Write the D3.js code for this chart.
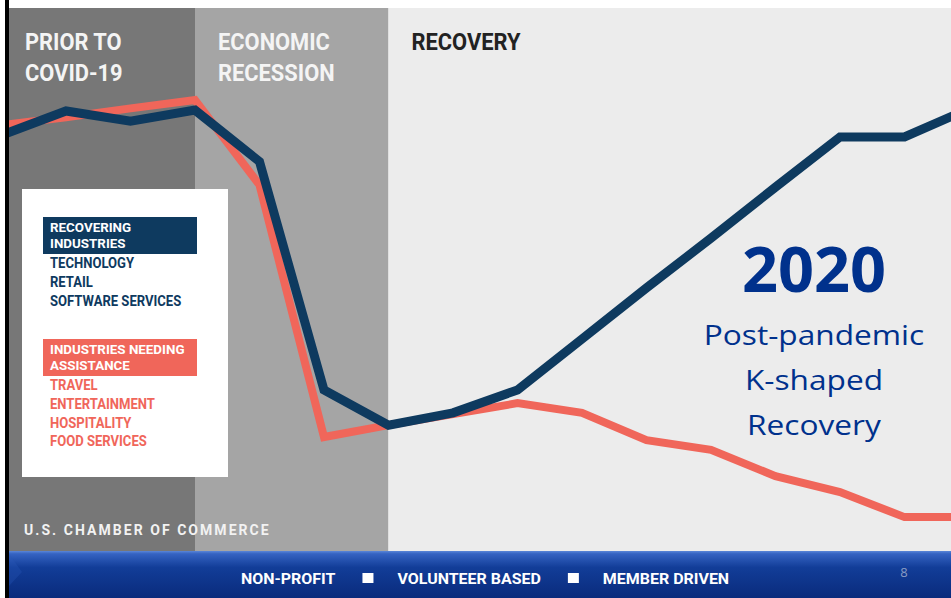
<!DOCTYPE html>
<html>
<head>
<meta charset="utf-8">
<script src="https://cdn.jsdelivr.net/npm/d3@7"></script>
<style>
  html, body { margin: 0; padding: 0; background: #ffffff; }
  svg { display: block; }
</style>
</head>
<body>
<svg width="951" height="598"></svg>
<script>
// data (index, pre-crisis peak = 100)
var steps = [0, 1, 2, 3, 4, 5, 6, 7, 8, 9, 10, 11, 12, 13, 14, 15];
var recovering = [92, 97.5, 95.2, 97.7, 86, 34.1, 26.1, 28.9, 34.1, 45.7, 57.3, 68.6, 80.2, 91.6, 91.6, 98];
var needingAssistance = [94.3, 96.1, 98.1, 100, 80.7, 23.4, 26.1, 28.6, 31.1, 28.9, 22.7, 20.5, 14.5, 10.9, 5.2, 5.2];

var phaseLabels = [["PRIOR TO", "COVID-19"], ["ECONOMIC", "RECESSION"], ["RECOVERY"]];
var phaseStart = [0, 3, 6];
var phaseEnd = [3, 6, 15];

var recoveringHeader = ["RECOVERING", "INDUSTRIES"];
var recoveringItems = ["TECHNOLOGY", "RETAIL", "SOFTWARE SERVICES"];
var assistHeader = ["INDUSTRIES NEEDING", "ASSISTANCE"];
var assistItems = ["TRAVEL", "ENTERTAINMENT", "HOSPITALITY", "FOOD SERVICES"];

var footerItems = ["NON-PROFIT", "VOLUNTEER BASED", "MEMBER DRIVEN"];
var noteLines = ["Post-pandemic", "K-shaped", "Recovery"];

// layout
var W = 951, H = 598;
var plot = {left: 9, top: 8, right: 951, bottom: 551};
var phaseFill = ["#777777", "#a5a5a5", "#ececec"];
var phaseText = ["#f4f4f4", "#f4f4f4", "#222222"];
var navy = "#0e3a5f", coral = "#f0665a", noteBlue = "#00318c";

var svg = d3.select("svg");

var x = d3.scaleLinear().domain([0, 15]).range([1.5, 969]);
var y = d3.scaleLinear().domain([0, 100]).range([540, 100]);

// squeeze / stretch text horizontally by a factor
function fit(sel, k) {
    sel.each(function() {
        var len = this.getComputedTextLength();
        d3.select(this).attr("textLength", len * k).attr("lengthAdjust", "spacingAndGlyphs");
    });
}

svg.append("defs").append("clipPath").attr("id", "plotclip")
    .append("rect")
    .attr("x", plot.left).attr("y", plot.top)
    .attr("width", plot.right - plot.left).attr("height", plot.bottom - plot.top);

var g = svg.append("g").attr("clip-path", "url(#plotclip)");

// phase bands
g.selectAll("rect.phase")
    .data(phaseStart)
    .enter().append("rect")
    .attr("class", "phase")
    .attr("x", function(d) { return x(d); })
    .attr("y", plot.top)
    .attr("width", function(d, i) { return x(phaseEnd[i]) - x(d); })
    .attr("height", plot.bottom - plot.top)
    .attr("fill", function(d, i) { return phaseFill[i]; });

// phase titles
phaseLabels.forEach(function(lines, i) {
    var t = g.append("text")
        .attr("x", Math.max(x(phaseStart[i]), plot.left) + (i == 0 ? 16 : 23))
        .attr("y", 50)
        .attr("font-family", "Roboto, sans-serif")
        .attr("font-weight", "bold")
        .attr("font-size", 24)
        .attr("fill", phaseText[i]);
    lines.forEach(function(l, j) {
        t.append("tspan").attr("x", t.attr("x")).attr("y", 50 + j * 31).text(l);
    });
    fit(t.selectAll("tspan"), 0.91);
});

// the two lines
var line = d3.line()
    .x(function(d, i) { return x(steps[i]); })
    .y(function(d) { return y(d); });

g.append("path")
    .datum(needingAssistance)
    .attr("fill", "none")
    .attr("stroke", coral)
    .attr("stroke-width", 8)
    .attr("d", line);

g.append("path")
    .datum(recovering)
    .attr("fill", "none")
    .attr("stroke", navy)
    .attr("stroke-width", 9)
    .attr("d", line);

// legend card
var leg = svg.append("g");
leg.append("rect")
    .attr("x", 22).attr("y", 189).attr("width", 206).attr("height", 288)
    .attr("fill", "#ffffff");

function legendBlock(top, color, header, items) {
    leg.append("rect")
        .attr("x", 43).attr("y", top).attr("width", 154).attr("height", 37)
        .attr("fill", color);
    var h = leg.append("g")
        .attr("font-family", "Roboto, sans-serif")
        .attr("font-weight", "bold")
        .attr("font-size", 13.5)
        .attr("fill", "#ffffff");
    h.selectAll("text").data(header).enter().append("text")
        .attr("x", 50)
        .attr("y", function(d, i) { return top + 15 + i * 16; })
        .text(function(d) { return d; });
    fit(h.selectAll("text"), 0.99);
    var it = leg.append("g")
        .attr("font-family", "Roboto, sans-serif")
        .attr("font-weight", "bold")
        .attr("font-size", 15)
        .attr("fill", color);
    it.selectAll("text").data(items).enter().append("text")
        .attr("x", 50)
        .attr("y", function(d, i) { return top + 51 + i * 18.8; })
        .text(function(d) { return d; });
    fit(it.selectAll("text"), 0.87);
}
legendBlock(217, navy, recoveringHeader, recoveringItems);
legendBlock(339, coral, assistHeader, assistItems);

// source line
svg.append("text")
    .attr("x", 24).attr("y", 535)
    .attr("font-family", "Roboto, sans-serif")
    .attr("font-weight", "bold")
    .attr("font-size", 14)
    .attr("letter-spacing", 2.05)
    .attr("fill", "#f2f2f2")
    .text("U.S. CHAMBER OF COMMERCE");

// annotation
var note = svg.append("g")
    .attr("font-family", "'Open Sans', sans-serif")
    .attr("fill", noteBlue)
    .attr("text-anchor", "middle");
note.append("text")
    .attr("x", 814).attr("y", 292)
    .attr("font-size", 63)
    .attr("font-weight", "bold")
    .text("2020");
note.selectAll("text.line").data(noteLines).enter().append("text")
    .attr("class", "line")
    .attr("x", 814)
    .attr("y", function(d, i) { return 345 + i * 45; })
    .attr("font-size", 28)
    .text(function(d) { return d; });
fit(note.selectAll("text.line"), 1.13);

// frame: white top strip and black left rule
svg.append("rect").attr("x", 0).attr("y", 0).attr("width", W).attr("height", plot.top).attr("fill", "#ffffff");
svg.append("rect").attr("x", 5).attr("y", 0).attr("width", 4).attr("height", H).attr("fill", "#000000");

// footer band
var grad = svg.select("defs").append("linearGradient")
    .attr("id", "footgrad").attr("x1", 0).attr("y1", 0).attr("x2", 0).attr("y2", 1);
grad.append("stop").attr("offset", "0%").attr("stop-color", "#5a86d8");
grad.append("stop").attr("offset", "6%").attr("stop-color", "#3563c2");
grad.append("stop").attr("offset", "35%").attr("stop-color", "#123d98");
grad.append("stop").attr("offset", "100%").attr("stop-color", "#0a2b7c");

svg.append("rect")
    .attr("x", plot.left).attr("y", plot.bottom)
    .attr("width", W - plot.left).attr("height", H - plot.bottom)
    .attr("fill", "url(#footgrad)");
svg.append("path")
    .attr("d", "M9,554 L22,572 L9,586 Z")
    .attr("fill", "#2c5ab8")
    .attr("opacity", 0.3);

var foot = svg.append("g")
    .attr("font-family", "Roboto, sans-serif")
    .attr("font-weight", "bold")
    .attr("font-size", 15.5)
    .attr("fill", "#ffffff");
var cx = 241;
footerItems.forEach(function(s, i) {
    var t = foot.append("text").attr("x", cx).attr("y", 584).text(s);
    var w = t.node().getComputedTextLength() * 1.03;
    t.attr("textLength", w).attr("lengthAdjust", "spacingAndGlyphs");
    cx += w;
    if (i < footerItems.length - 1) {
        foot.append("rect").attr("x", cx + 27).attr("y", 573).attr("width", 11).attr("height", 10);
        cx += 27 + 11 + 24;
    }
});

svg.append("text")
    .attr("x", 904).attr("y", 577)
    .attr("text-anchor", "middle")
    .attr("font-family", "'Open Sans', sans-serif")
    .attr("font-size", 13)
    .attr("fill", "#8a9cc4")
    .text("8");
</script>
</body>
</html>
